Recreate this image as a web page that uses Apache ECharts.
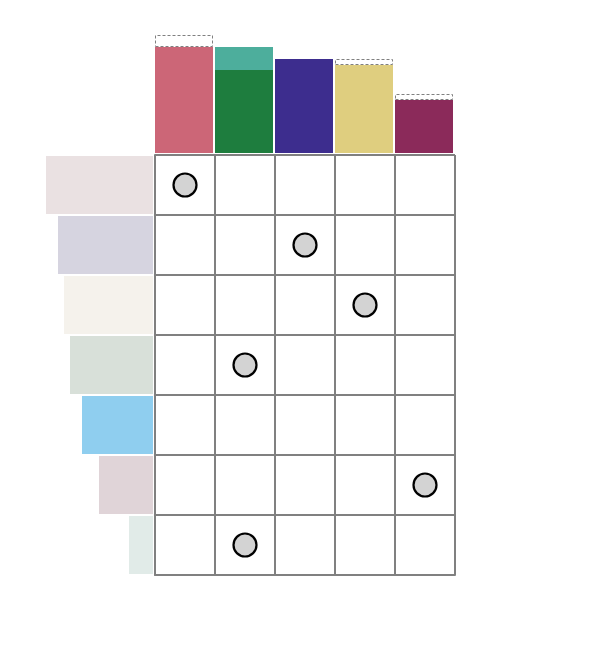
<!DOCTYPE html>
<html><head><meta charset="utf-8">
<script src="https://cdn.jsdelivr.net/npm/echarts@6/dist/echarts.min.js"></script>
<style>html,body{margin:0;padding:0;background:#fff}#c{width:600px;height:662px}</style>
</head><body><div id="c"></div>
<script>
// Intersections (columns) and sets (rows)
const intersections = ['I1', 'I2', 'I3', 'I4', 'I5'];
const sets = ['S1', 'S2', 'S3', 'S4', 'S5', 'S6', 'S7'];
// Top bar values (solid part) and extra part above it
const barValues = [106, 83, 94, 88, 53];
const barExtra = [12, 23, 0, 6, 6];
const extraKind = ['dashed', 'solid', 'none', 'dashed', 'dashed'];
const barColors = ['#CC6677', '#1E7D3E', '#3D2D8E', '#DFCE7F', '#8B2A5A'];
const extraColors = ['', '#4DAE9C', '', '', ''];
// Left set-size bars
const setSizes = [107, 95, 89, 83, 71, 54, 24];
const setColors = ['#EAE1E2', '#D6D4E0', '#F5F2EC', '#D8E0D9', '#8FCEEF', '#E0D4D8', '#E1EBE8'];
// Membership dots: [column index, row index]
const membership = [[0, 0], [2, 1], [3, 2], [1, 3], [4, 5], [1, 6]];

const grey = '#808080';
const chart = echarts.init(document.getElementById('c'), null, {renderer: 'canvas'});

const extraData = barExtra.map((v, i) => {
  if (extraKind[i] === 'none') return '-';
  if (extraKind[i] === 'dashed') {
    return {value: v, itemStyle: {color: 'rgba(255,255,255,0)', borderColor: grey, borderWidth: 1, borderType: [3, 2]}};
  }
  return {value: v, itemStyle: {color: extraColors[i]}};
});

chart.setOption({
  animation: false,
  backgroundColor: '#ffffff',
  grid: [
    {left: 154, top: 35, width: 300, height: 118},
    {left: 155, top: 155, width: 300, height: 420},
    {left: 46, top: 155, width: 107, height: 420}
  ],
  xAxis: [
    {gridIndex: 0, type: 'category', data: intersections, show: false},
    {gridIndex: 1, type: 'category', data: intersections, boundaryGap: true,
      axisLine: {show: true, lineStyle: {color: grey, width: 2}},
      axisTick: {show: false}, axisLabel: {show: false},
      splitLine: {show: true, interval: 0, lineStyle: {color: grey, width: 2}}},
    {gridIndex: 2, type: 'value', inverse: true, min: 0, max: 107, show: false}
  ],
  yAxis: [
    {gridIndex: 0, type: 'value', min: 0, max: 118, show: false},
    {gridIndex: 1, type: 'category', data: sets, inverse: true, boundaryGap: true,
      axisLine: {show: true, lineStyle: {color: grey, width: 2}},
      axisTick: {show: false}, axisLabel: {show: false},
      splitLine: {show: true, interval: 0, lineStyle: {color: grey, width: 2}}},
    {gridIndex: 2, type: 'category', data: sets, inverse: true, show: false}
  ],
  series: [
    {type: 'bar', xAxisIndex: 0, yAxisIndex: 0, stack: 'top', barWidth: 58, z: 2,
      data: barValues.map((v, i) => ({value: v, itemStyle: {color: barColors[i]}}))},
    {type: 'bar', xAxisIndex: 0, yAxisIndex: 0, stack: 'top', barWidth: 58, z: 1,
      data: extraData},
    {type: 'bar', xAxisIndex: 2, yAxisIndex: 2, barWidth: 58,
      data: setSizes.map((v, i) => ({value: v, itemStyle: {color: setColors[i]}}))},
    {type: 'scatter', xAxisIndex: 1, yAxisIndex: 1, symbolSize: 23, z: 5,
      itemStyle: {color: '#d3d3d3', borderColor: '#000', borderWidth: 2.2, opacity: 1},
      data: membership}
  ]
});
</script></body></html>
